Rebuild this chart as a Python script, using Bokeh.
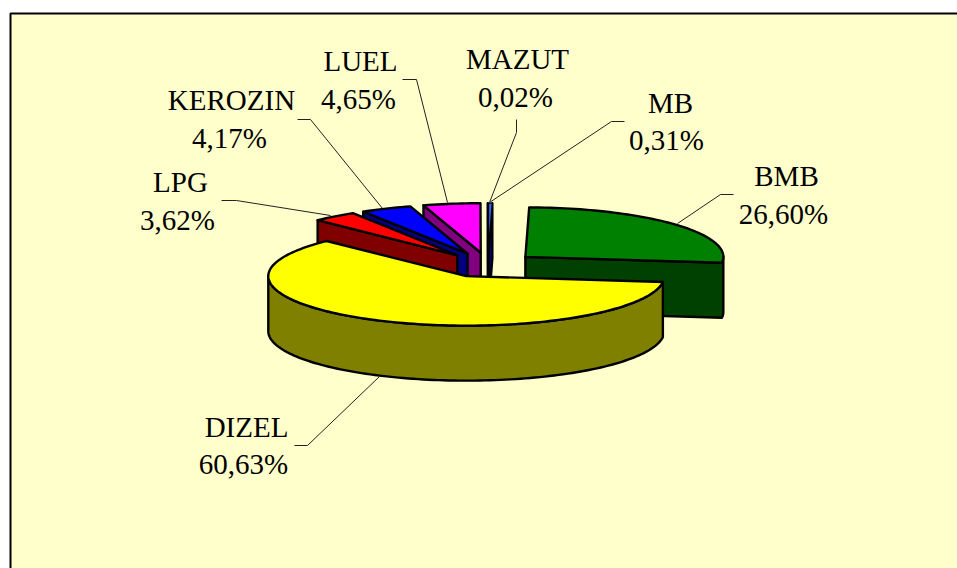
import math
from bokeh.plotting import figure
from bokeh.models import Range1d
from bokeh.embed import file_html
from bokeh.resources import INLINE
from bokeh.core.properties import value

# ---- data (clockwise from 12 o'clock) ----
categories = ["MB", "BMB", "DIZEL", "LPG", "KEROZIN", "LUEL", "MAZUT"]
shares = [0.31, 26.60, 60.63, 3.62, 4.17, 4.65, 0.02]

# ---- styles ----
top_colors = ["#3366FF", "#008000", "#FFFF00", "#FF0000", "#0000FF", "#FF00FF", "#003366"]
wall_colors = ["#000080", "#004000", "#808000", "#800000", "#000080", "#800080", "#001933"]
draw_order = ["MB", "LUEL", "MAZUT", "KEROZIN", "LPG", "BMB", "DIZEL"]

# ---- layout, in page pixels ----
W, H = 957, 568
CX, CY = 487.5, 264.5
RX, RY = 198.0, 49.5
EXPLODE = 0.25
DEPTH = 55.0
FONT_PX = "29px"
TEXT_DY = -10
label_pos = {
    "MB": (670, 112, 666, 149),
    "BMB": (786, 185, 783, 223),
    "DIZEL": (246, 436, 243, 473),
    "LPG": (180, 191, 177, 229),
    "KEROZIN": (231, 109, 229, 147),
    "LUEL": (360, 70, 358, 108),
    "MAZUT": (517, 68, 515, 106),
}
leaders = {
    "MB": ([624, 611, 489], [121, 121, 202]),
    "BMB": ([733, 720, 677], [194, 194, 223]),
    "DIZEL": ([294, 307, 379], [445, 445, 376]),
    "LPG": ([221, 236, 330], [200, 200, 215]),
    "KEROZIN": ([297, 310, 382], [119, 119, 208]),
    "LUEL": ([402, 416, 447], [79, 79, 202]),
    "MAZUT": ([516, 516, 489], [119, 132, 202]),
}

p = figure(width=W, height=H, output_backend="svg", toolbar_location=None,
           x_range=Range1d(0, W), y_range=Range1d(H, 0),
           min_border=0, outline_line_color=None, background_fill_color="white",
           border_fill_color="white")
p.axis.visible = False
p.grid.visible = False

# chart area: right and bottom borders fall outside the page
p.quad(left=[10], right=[W + 10], top=[13], bottom=[H + 10],
       fill_color="#FFFFCC", line_color="black", line_width=2)

total = sum(shares)
slices = {}
acc = 0.0
for name, share, top_c, wall_c in zip(categories, shares, top_colors, wall_colors):
    a0 = -90 + 360 * acc / total
    acc += share
    a1 = -90 + 360 * acc / total
    mid = math.radians((a0 + a1) / 2)
    ax = CX + EXPLODE * RX * math.cos(mid)
    ay = CY + EXPLODE * RY * math.sin(mid)
    n = max(2, int((a1 - a0) / 1.5) + 2)
    pts = [(ax, ay)]
    for i in range(n):
        t = math.radians(a0 + (a1 - a0) * i / (n - 1))
        pts.append((ax + RX * math.cos(t), ay + RY * math.sin(t)))
    slices[name] = (pts, top_c, wall_c, a1 - a0)

for name in draw_order:
    pts, top_c, wall_c, span = slices[name]
    lw = 2.4 if span > 2 else 1.4
    m = len(pts)
    # edges of the top face that look towards the viewer (moving left on screen)
    front = [pts[(i + 1) % m][0] - pts[i][0] < -1e-6 for i in range(m)]
    start = next((i for i in range(m) if front[i] and not front[i - 1]), None)
    if start is not None:
        chain = [pts[start]]
        i = start
        while front[i]:
            i = (i + 1) % m
            chain.append(pts[i])
        xs = [q[0] for q in chain] + [q[0] for q in reversed(chain)]
        ys = [q[1] for q in chain] + [q[1] + DEPTH for q in reversed(chain)]
        p.patch(xs, ys, fill_color=wall_c, line_color="black", line_width=2.4, line_join="round")
    p.patch([q[0] for q in pts], [q[1] for q in pts], fill_color=top_c,
            line_color="black", line_width=lw, line_join="round")

for name in categories:
    xs, ys = leaders[name]
    p.line(xs, ys, line_color="#222222", line_width=1)

for name, share in zip(categories, shares):
    x1, y1, x2, y2 = label_pos[name]
    pct = f"{share:.2f}".replace(".", ",") + "%"
    p.text(x=[x1, x2], y=[y1 + TEXT_DY, y2 + TEXT_DY], text=[name, pct], text_align="center",
           text_baseline="alphabetic", text_font=value("Liberation Serif"),
           text_font_size=FONT_PX, text_color="black")

open("out.html", "w").write(file_html(p, INLINE))
